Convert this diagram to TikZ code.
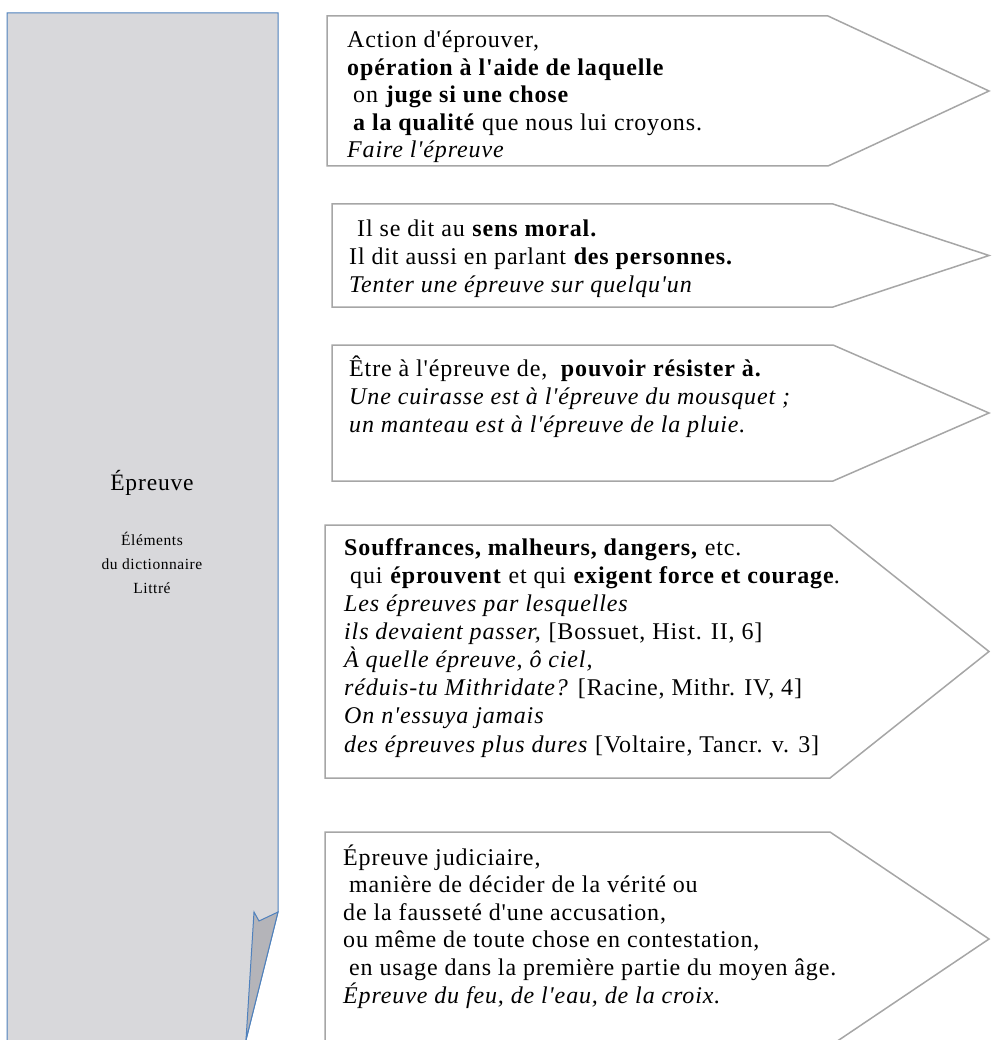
\documentclass[tikz,border=0pt]{standalone}
\usepackage{fontspec}
\setmainfont{Liberation Serif}[Ligatures=TeXOff, LetterSpace=3.6]
\usetikzlibrary{positioning}

\definecolor{leftgray}{RGB}{216,216,219}
\definecolor{foldgray}{RGB}{180,180,185}
\definecolor{leftblue}{RGB}{79,129,189}
\definecolor{boxgray}{RGB}{166,166,166}

\newcommand{\ind}{\hspace*{6pt}}
\newcommand{\chevron}[4]{\draw[defbox] (#1,#2) -- (#4,#2) -- (989,{(#2+#3)/2}) -- (#4,#3) -- (#1,#3) -- cycle;}

\begin{document}
\begin{tikzpicture}[x=1pt, y=-1pt,
	defbox/.style={draw=boxgray, line width=1.5pt, fill=white},
	deftext/.style={anchor=base west, align=left, inner sep=0pt, font=\fontsize{24}{27.6}\selectfont},
	titletext/.style={anchor=base, inner sep=0pt, font=\fontsize{23.5}{27}\selectfont},
	subtext/.style={anchor=base, align=center, inner sep=0pt, font=\fontsize{15.5}{24}\selectfont}]
		%\draw[gray, dotted] (0, 0) grid[step=50] (991, 1040);
		% base of a multi-line node = baseline of its last line
		\useasboundingbox (0, 0) rectangle (991, 1040);
		\draw[fill = leftgray, draw = leftblue, line width = 1pt] (7, 1043) -- (7, 13) -- (278, 13) -- (278, 912) -- (245.25, 1043) -- cycle;
		\draw[fill = foldgray, draw = leftblue, line width = 1pt] (254, 912) -- (259, 921) -- (278, 912) -- (246, 1040) -- cycle;
		\node[titletext] (titre) at (152, 490) {Épreuve};
		\node[subtext] (source) at (152, 593) {Éléments\\du dictionnaire\\Littré};
		\chevron{327}{16}{166}{828}
		\chevron{332}{204}{307}{833}
		\chevron{332}{345}{481}{833}
		\chevron{325}{525}{778}{830}
		\chevron{325}{832}{1046}{830}
		\node[deftext] (def1) at (347, 158) {Action d'éprouver,\\
			\textbf{opération à l'aide de laquelle}\\
			\ind on \textbf{juge si une chose}\\
			\ind\textbf{a la qualité} que nous lui croyons.\\
			\textit{Faire l'épreuve}};
		\node[deftext] (def2) at (349, 292) {\hspace*{8pt}Il se dit au \textbf{sens moral.}\\
			Il dit aussi en parlant \textbf{des personnes.}\\
			\textit{Tenter une épreuve sur quelqu'un}};
		\node[deftext] (def3) at (349, 432) {Être à l'épreuve de,\ \ \textbf{pouvoir résister à.}\\
			\textit{Une cuirasse est à l'épreuve du mousquet ;}\\
			\textit{un manteau est à l'épreuve de la pluie.}};
		\node[deftext, font=\fontsize{24}{28.1}\selectfont] (def4) at (344, 752) {\textbf{Souffrances, malheurs, dangers,} etc.\\
			\ind qui \textbf{éprouvent} et qui \textbf{exigent force et courage}.\\
			\textit{Les épreuves par lesquelles}\\
			\textit{ils devaient passer,} [Bossuet, Hist. II, 6]\\
			\textit{À quelle épreuve, ô ciel,}\\
			\textit{réduis-tu Mithridate?} [Racine, Mithr. IV, 4]\\
			\textit{On n'essuya jamais}\\
			\textit{des épreuves plus dures} [Voltaire, Tancr. v. 3]};
		\node[deftext] (def5) at (343, 1003) {Épreuve judiciaire,\\
			\ind manière de décider de la vérité ou\\
			de la fausseté d'une accusation,\\
			ou même de toute chose en contestation,\\
			\ind en usage dans la première partie du moyen âge.\\
			\textit{Épreuve du feu, de l'eau, de la croix.}};
	\end{tikzpicture}
\end{document}
